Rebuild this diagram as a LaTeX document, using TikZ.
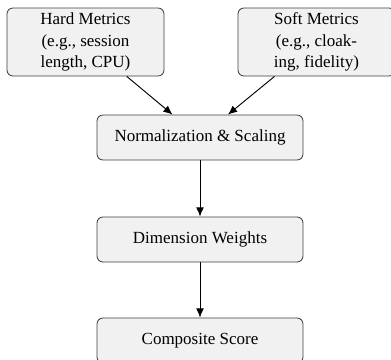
\documentclass[tikz,border=0pt]{standalone}
\usepackage{fontspec}
\setmainfont{Liberation Serif}
\usetikzlibrary{arrows.meta}

\newlength{\du}
\setlength{\du}{0.588pt}

\definecolor{boxfillcolor}{rgb}{0.945, 0.945, 0.945}
\definecolor{boxlinecolor}{rgb}{0.250, 0.250, 0.250}

\tikzset{
  metricbox/.style={draw=boxlinecolor, fill=boxfillcolor, rounded corners=3.5pt,
    line width=0.5pt, align=center, minimum width=157\du, minimum height=68\du,
    inner sep=0pt, font=\fontsize{10}{12.6}\selectfont},
  stagebox/.style={draw=boxlinecolor, fill=boxfillcolor, rounded corners=3.5pt,
    line width=0.5pt, align=center, minimum width=206\du, minimum height=45\du,
    inner sep=0pt, font=\fontsize{10}{12.6}\selectfont},
  flowline/.style={draw=black, line width=0.55pt, -{Latex[length=5.4pt,width=4.6pt]}}
}

\begin{document}
\begin{tikzpicture}
\pgftransformxscale{1.000000}
\pgftransformyscale{-1.000000}
\useasboundingbox (0\du,0\du) rectangle (391\du,360\du);
% input metrics
\node[metricbox] (hard) at (85.5\du,42\du){Hard Metrics\\(e.g., session\\length, CPU)};
\node[metricbox] (soft) at (316.5\du,42\du){Soft Metrics\\(e.g., cloak-\\ing, fidelity)};
% pipeline stages
\node[stagebox] (norm) at (200\du,137.5\du){Normalization \& Scaling};
\node[stagebox] (weights) at (200\du,239.5\du){Dimension Weights};
\node[stagebox] (score) at (200\du,340.5\du){Composite Score};
\draw[flowline] (hard)--(norm);
\draw[flowline] (soft)--(norm);
\draw[flowline] (norm)--(weights);
\draw[flowline] (weights)--(score);
\end{tikzpicture}
\end{document}
